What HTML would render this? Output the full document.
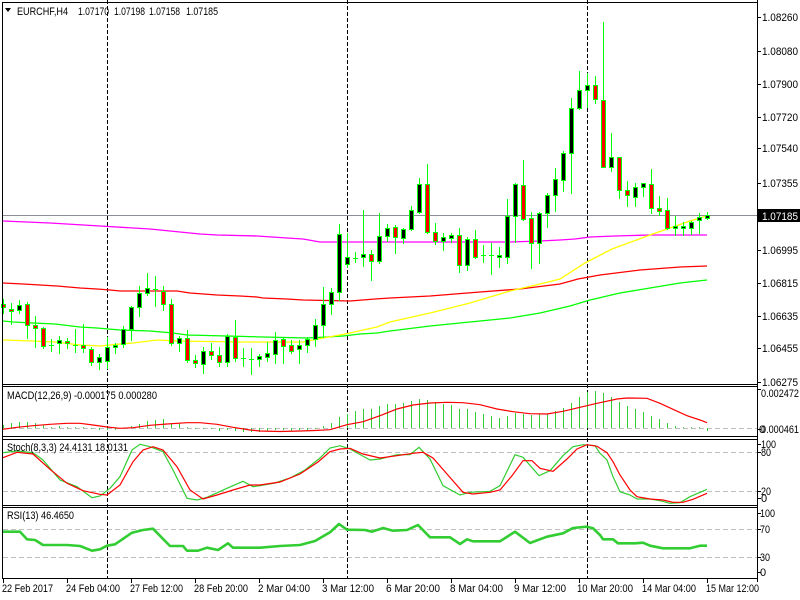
<!DOCTYPE html>
<html><head><meta charset="utf-8"><style>
html,body{margin:0;padding:0;background:#fff;}
svg{display:block;}
text{font-family:"Liberation Sans",sans-serif;font-size:11px;fill:#000;}
</style></head><body>
<svg width="800" height="600" viewBox="0 0 800 600" xmlns="http://www.w3.org/2000/svg">
<rect x="0" y="0" width="800" height="600" fill="#fff"/>

<!-- level dashed lines -->
<g stroke="#c0c0c0" stroke-width="1" stroke-dasharray="5,3" shape-rendering="crispEdges">
<line x1="3" y1="428.5" x2="757" y2="428.5"/>
<line x1="3" y1="452.5" x2="757" y2="452.5"/>
<line x1="3" y1="491.5" x2="757" y2="491.5"/>
<line x1="3" y1="529.5" x2="757" y2="529.5"/>
<line x1="3" y1="557.5" x2="757" y2="557.5"/>
</g>

<!-- separators -->
<g stroke="#000" stroke-width="1" stroke-dasharray="4,2" shape-rendering="crispEdges">
<line x1="107.5" y1="0" x2="107.5" y2="578"/>
<line x1="347.5" y1="0" x2="347.5" y2="578"/>
<line x1="587.5" y1="0" x2="587.5" y2="578"/>
</g>

<!-- price line -->
<line x1="2" y1="215.5" x2="757" y2="215.5" stroke="#8a8e96" stroke-width="1" shape-rendering="crispEdges"/>

<!-- moving averages -->
<g fill="none" stroke-width="1.3">
<polyline stroke="#ff00ff" points="3,221 50,223 100,226 150,229 190,233 200,234 217,235 257,236 287,238 303,239 320,242 390,242 430,242 510,242 540,241 560,240 575,239 590,237 615,236 650,235 707,235"/>
<polyline stroke="#ff0000" points="3,283 23,284 40,285 57,286 80,288 97,289 110,290 120,291 177,291 190,293 217,295 240,296 257,297 263,298 287,299 303,300 350,301 375,299 390,298 430,296 480,292 520,289 560,284 578,279 600,275 640,270 680,267 707,266"/>
<polyline stroke="#00ff00" points="3,321 13,322 33,323 55,324 80,327 97,328 120,330 150,331 173,333 187,335 227,336 263,337 307,338 327,337 343,336 360,334 377,333 390,331 430,326 470,322 510,318 540,313 570,306 590,300 620,293 650,288 680,283 707,280"/>
<polyline stroke="#ffff00" points="3,340 32,341 55,342 80,345 100,346 120,344 133,343 157,340 177,341 240,342 303,342 313,340 323,338 340,335 350,333 363,330 377,327 390,322 430,313 470,303 510,291 540,284 560,279 585,263 612,249 650,235 690,221 707,216"/>
</g>

<!-- candle wicks -->
<path fill="none" stroke="#00ff00" stroke-width="1" shape-rendering="crispEdges" d="M3.5 299V314M11.5 303V325M19.5 300V314M27.5 302V339M35.5 316V348M43.5 327V349M51.5 339V352M59.5 336V354M67.5 338V349M75.5 329V353M83.5 324V353M91.5 347V366M99.5 354V370M107.5 337V369M115.5 343V354M123.5 326V348M131.5 306V341M139.5 286V317M147.5 273V296M155.5 276V307M163.5 286V311M171.5 299V346M179.5 336V352M187.5 330V363M195.5 355V368M203.5 347V374M211.5 343V360M219.5 347V367M227.5 334V367M235.5 320V362M243.5 348V367M251.5 348V375M259.5 354V367M267.5 342V362M275.5 332V364M283.5 338V364M291.5 340V354M299.5 340V364M307.5 337V353M315.5 319V347M323.5 287V338M331.5 288V315M339.5 224V301M347.5 233V268M355.5 252V263M363.5 210V267M371.5 250V281M379.5 213V264M387.5 224V242M395.5 225V254M403.5 228V244M411.5 206V231M419.5 178V214M427.5 164V234M435.5 223V245M443.5 233V251M451.5 233V243M459.5 228V273M467.5 237V271M475.5 230V259M483.5 245V263M491.5 243V275M499.5 247V268M507.5 199V264M515.5 183V243M523.5 160V221M531.5 212V269M539.5 212V264M547.5 193V228M555.5 168V212M563.5 151V192M571.5 98V194M579.5 71V110M587.5 73V108M595.5 76V104M603.5 22V168M611.5 133V172M619.5 157V199M627.5 181V207M635.5 183V207M643.5 183V197M651.5 169V214M659.5 196V216M667.5 198V230M675.5 216V236M683.5 222V236M691.5 221V235M699.5 213V234M707.5 212V220"/>

<!-- candle bodies outer -->
<g fill="#00ff00" shape-rendering="crispEdges">
<rect x="1" y="304" width="5" height="4"/>
<rect x="9" y="309" width="5" height="3"/>
<rect x="17" y="305" width="5" height="6"/>
<rect x="25" y="304" width="5" height="22"/>
<rect x="33" y="325" width="5" height="4"/>
<rect x="41" y="328" width="5" height="19"/>
<rect x="49" y="345" width="5" height="1"/>
<rect x="57" y="340" width="5" height="4"/>
<rect x="65" y="341" width="5" height="3"/>
<rect x="73" y="345" width="5" height="1"/>
<rect x="81" y="345" width="5" height="4"/>
<rect x="89" y="349" width="5" height="14"/>
<rect x="97" y="357" width="5" height="6"/>
<rect x="105" y="347" width="5" height="15"/>
<rect x="113" y="345" width="5" height="3"/>
<rect x="121" y="329" width="5" height="16"/>
<rect x="129" y="307" width="5" height="23"/>
<rect x="137" y="293" width="5" height="15"/>
<rect x="145" y="288" width="5" height="6"/>
<rect x="153" y="289" width="5" height="1"/>
<rect x="161" y="291" width="5" height="14"/>
<rect x="169" y="304" width="5" height="40"/>
<rect x="177" y="338" width="5" height="6"/>
<rect x="185" y="338" width="5" height="23"/>
<rect x="193" y="360" width="5" height="4"/>
<rect x="201" y="351" width="5" height="14"/>
<rect x="209" y="351" width="5" height="5"/>
<rect x="217" y="355" width="5" height="8"/>
<rect x="225" y="336" width="5" height="27"/>
<rect x="233" y="337" width="5" height="22"/>
<rect x="241" y="358" width="5" height="1"/>
<rect x="249" y="359" width="5" height="1"/>
<rect x="257" y="356" width="5" height="4"/>
<rect x="265" y="353" width="5" height="5"/>
<rect x="273" y="340" width="5" height="15"/>
<rect x="281" y="339" width="5" height="8"/>
<rect x="289" y="345" width="5" height="7"/>
<rect x="297" y="345" width="5" height="5"/>
<rect x="305" y="339" width="5" height="7"/>
<rect x="313" y="325" width="5" height="15"/>
<rect x="321" y="304" width="5" height="22"/>
<rect x="329" y="292" width="5" height="13"/>
<rect x="337" y="234" width="5" height="59"/>
<rect x="345" y="257" width="5" height="8"/>
<rect x="353" y="258" width="5" height="1"/>
<rect x="361" y="254" width="5" height="4"/>
<rect x="369" y="254" width="5" height="8"/>
<rect x="377" y="236" width="5" height="26"/>
<rect x="385" y="228" width="5" height="9"/>
<rect x="393" y="227" width="5" height="11"/>
<rect x="401" y="229" width="5" height="10"/>
<rect x="409" y="210" width="5" height="20"/>
<rect x="417" y="184" width="5" height="29"/>
<rect x="425" y="184" width="5" height="49"/>
<rect x="433" y="232" width="5" height="10"/>
<rect x="441" y="237" width="5" height="5"/>
<rect x="449" y="235" width="5" height="4"/>
<rect x="457" y="235" width="5" height="31"/>
<rect x="465" y="239" width="5" height="27"/>
<rect x="473" y="239" width="5" height="19"/>
<rect x="481" y="255" width="5" height="1"/>
<rect x="489" y="255" width="5" height="1"/>
<rect x="497" y="255" width="5" height="3"/>
<rect x="505" y="216" width="5" height="42"/>
<rect x="513" y="184" width="5" height="33"/>
<rect x="521" y="185" width="5" height="35"/>
<rect x="529" y="218" width="5" height="26"/>
<rect x="537" y="213" width="5" height="31"/>
<rect x="545" y="195" width="5" height="19"/>
<rect x="553" y="179" width="5" height="17"/>
<rect x="561" y="153" width="5" height="28"/>
<rect x="569" y="108" width="5" height="46"/>
<rect x="577" y="90" width="5" height="19"/>
<rect x="585" y="85" width="5" height="6"/>
<rect x="593" y="85" width="5" height="15"/>
<rect x="601" y="100" width="5" height="68"/>
<rect x="609" y="157" width="5" height="11"/>
<rect x="617" y="157" width="5" height="34"/>
<rect x="625" y="190" width="5" height="6"/>
<rect x="633" y="187" width="5" height="11"/>
<rect x="641" y="183" width="5" height="5"/>
<rect x="649" y="184" width="5" height="25"/>
<rect x="657" y="208" width="5" height="4"/>
<rect x="665" y="210" width="5" height="19"/>
<rect x="673" y="226" width="5" height="3"/>
<rect x="681" y="226" width="5" height="3"/>
<rect x="689" y="222" width="5" height="7"/>
<rect x="697" y="217" width="5" height="4"/>
<rect x="705" y="215" width="5" height="4"/>
</g>

<!-- red bodies -->
<g fill="#ff0000" shape-rendering="crispEdges">
<rect x="2" y="305" width="3" height="2"/>
<rect x="10" y="310" width="3" height="1"/>
<rect x="26" y="305" width="3" height="20"/>
<rect x="34" y="326" width="3" height="2"/>
<rect x="42" y="329" width="3" height="17"/>
<rect x="66" y="342" width="3" height="1"/>
<rect x="82" y="346" width="3" height="2"/>
<rect x="90" y="350" width="3" height="12"/>
<rect x="162" y="292" width="3" height="12"/>
<rect x="170" y="305" width="3" height="38"/>
<rect x="186" y="339" width="3" height="21"/>
<rect x="194" y="361" width="3" height="2"/>
<rect x="210" y="352" width="3" height="3"/>
<rect x="218" y="356" width="3" height="6"/>
<rect x="234" y="338" width="3" height="20"/>
<rect x="282" y="340" width="3" height="6"/>
<rect x="290" y="346" width="3" height="5"/>
<rect x="370" y="255" width="3" height="6"/>
<rect x="394" y="228" width="3" height="9"/>
<rect x="426" y="185" width="3" height="47"/>
<rect x="434" y="233" width="3" height="8"/>
<rect x="458" y="236" width="3" height="29"/>
<rect x="474" y="240" width="3" height="17"/>
<rect x="522" y="186" width="3" height="33"/>
<rect x="530" y="219" width="3" height="24"/>
<rect x="594" y="86" width="3" height="13"/>
<rect x="602" y="101" width="3" height="66"/>
<rect x="618" y="158" width="3" height="32"/>
<rect x="626" y="191" width="3" height="4"/>
<rect x="650" y="185" width="3" height="23"/>
<rect x="658" y="209" width="3" height="2"/>
<rect x="666" y="211" width="3" height="17"/>
</g>

<!-- black bodies -->
<g fill="#000" shape-rendering="crispEdges">
<rect x="18" y="306" width="3" height="4"/>
<rect x="58" y="341" width="3" height="2"/>
<rect x="98" y="358" width="3" height="4"/>
<rect x="106" y="348" width="3" height="13"/>
<rect x="114" y="346" width="3" height="1"/>
<rect x="122" y="330" width="3" height="14"/>
<rect x="130" y="308" width="3" height="21"/>
<rect x="138" y="294" width="3" height="13"/>
<rect x="146" y="289" width="3" height="4"/>
<rect x="178" y="339" width="3" height="4"/>
<rect x="202" y="352" width="3" height="12"/>
<rect x="226" y="337" width="3" height="25"/>
<rect x="258" y="357" width="3" height="2"/>
<rect x="266" y="354" width="3" height="3"/>
<rect x="274" y="341" width="3" height="13"/>
<rect x="298" y="346" width="3" height="3"/>
<rect x="306" y="340" width="3" height="5"/>
<rect x="314" y="326" width="3" height="13"/>
<rect x="322" y="305" width="3" height="20"/>
<rect x="330" y="293" width="3" height="11"/>
<rect x="338" y="235" width="3" height="57"/>
<rect x="346" y="258" width="3" height="6"/>
<rect x="362" y="255" width="3" height="2"/>
<rect x="378" y="237" width="3" height="24"/>
<rect x="386" y="229" width="3" height="7"/>
<rect x="402" y="230" width="3" height="8"/>
<rect x="410" y="211" width="3" height="18"/>
<rect x="418" y="185" width="3" height="27"/>
<rect x="442" y="238" width="3" height="3"/>
<rect x="450" y="236" width="3" height="2"/>
<rect x="466" y="240" width="3" height="25"/>
<rect x="498" y="256" width="3" height="1"/>
<rect x="506" y="217" width="3" height="40"/>
<rect x="514" y="185" width="3" height="31"/>
<rect x="538" y="214" width="3" height="29"/>
<rect x="546" y="196" width="3" height="17"/>
<rect x="554" y="180" width="3" height="15"/>
<rect x="562" y="154" width="3" height="26"/>
<rect x="570" y="109" width="3" height="44"/>
<rect x="578" y="91" width="3" height="17"/>
<rect x="586" y="86" width="3" height="4"/>
<rect x="610" y="158" width="3" height="9"/>
<rect x="634" y="188" width="3" height="9"/>
<rect x="642" y="184" width="3" height="3"/>
<rect x="674" y="227" width="3" height="1"/>
<rect x="682" y="227" width="3" height="1"/>
<rect x="690" y="223" width="3" height="5"/>
<rect x="698" y="218" width="3" height="2"/>
<rect x="706" y="216" width="3" height="2"/>
</g>

<!-- MACD histogram -->
<path fill="none" stroke="#32cd32" stroke-width="1" shape-rendering="crispEdges" d="M3.5 428V425M11.5 428V423M19.5 428V422M27.5 428V422M35.5 428V423M43.5 428V425M51.5 428V427M59.5 428V426M67.5 428V427M75.5 428V427M83.5 428V427M91.5 428V429M99.5 428V430M107.5 428V430M115.5 428V430M123.5 428V429M131.5 428V426M139.5 428V424M147.5 428V421M155.5 428V420M163.5 428V419M171.5 428V423M179.5 428V423M187.5 428V427M195.5 428V429M203.5 428V429M211.5 428V429M219.5 428V431M227.5 428V430M235.5 428V431M243.5 428V432M251.5 428V432M259.5 428V432M267.5 428V431M275.5 428V430M283.5 428V430M291.5 428V431M299.5 428V430M307.5 428V430M315.5 428V429M323.5 428V426M331.5 428V423M339.5 428V417M347.5 428V414M355.5 428V411M363.5 428V409M371.5 428V409M379.5 428V406M387.5 428V404M395.5 428V404M403.5 428V403M411.5 428V401M419.5 428V399M427.5 428V400M435.5 428V402M443.5 428V404M451.5 428V405M459.5 428V409M467.5 428V409M475.5 428V412M483.5 428V414M491.5 428V416M499.5 428V418M507.5 428V416M515.5 428V413M523.5 428V414M531.5 428V415M539.5 428V414M547.5 428V414M555.5 428V411M563.5 428V408M571.5 428V403M579.5 428V397M587.5 428V392M595.5 428V391M603.5 428V393M611.5 428V397M619.5 428V402M627.5 428V406M635.5 428V409M643.5 428V412M651.5 428V416M659.5 428V419M667.5 428V423M675.5 428V426M683.5 428V427M691.5 428V427M699.5 428V427M707.5 428V431"/>

<!-- MACD signal -->
<polyline fill="none" stroke="#ff0000" stroke-width="1.2" points="3,429.3 17,427.3 33,425.7 50,424.3 67,423.3 80,423.3 93,425 107,427 120,428.3 133,427.7 150,425.3 167,424 187,422.7 200,422.7 217,424.3 233,427.3 250,430 260,431 280,431.5 300,431 315,430.5 330,429.7 347,424.7 363,421.7 380,415.7 397,409 413,405 430,403 447,402.3 463,402.7 480,404.7 497,409 513,411.7 530,413.7 547,414 563,411.3 580,407.3 597,403.3 600,402.7 617,399 627,398 647,398.3 660,403.3 673,409.3 687,415.7 700,420 707,422.7"/>

<!-- Stoch -->
<polyline fill="none" stroke="#32cd32" stroke-width="1.2" points="3,452.7 17,451 33,452.7 43,460 60,480 77,486.7 92,497.7 100,496 110,488.3 120,476.7 132,450 140,444.3 150,446.7 163,451.7 173,470 187,498.3 197,500 207,497.3 227,488.3 243,481.3 253,486.7 260,485.7 275,483 290,478 305,470 320,458 330,448 340,445.7 350,449 370,460 380,459 397,454.7 410,454.7 419,447.3 430,459 443,485.7 460,495 470,492.3 490,491.3 500,485.7 515,454.7 523,457.3 539,475.7 550,470.7 563,455.7 573,446.7 583,444.7 595,445.7 600,453.3 607,460 613,476.7 620,491.7 630,495 637,499 650,499 660,500.7 670,503.3 680,502.7 690,496.7 707,489.3"/>
<polyline fill="none" stroke="#ff0000" stroke-width="1.2" points="3,457.7 17,452.3 33,454 50,469.3 67,483.3 83,490.7 100,494.3 107,495 120,485 133,461.7 143,450 153,446.7 163,450 177,466.7 190,490 203,499 217,495 233,490 250,485 260,485 280,482 300,474 318,462 330,451.7 340,449 350,448.3 363,454 380,458 397,455.7 413,453.3 423,452.3 433,458 447,474 463,492.3 473,494 490,492.3 500,490 512,475.7 523,460.7 532,460.7 540,468.3 553,471.3 567,459 577,449 587,444.7 597,446.3 600,448.3 607,452.7 613,461.7 620,475 630,490 637,496.7 650,499 663,500 673,502.3 683,502.3 693,499.3 707,493.3"/>

<!-- RSI -->
<polyline fill="none" stroke="#32cd32" stroke-width="2.6" stroke-linejoin="round" points="3,531.7 20,531.7 27,539.3 35,540 43,545 67,545 80,546 92,550.7 100,549.3 107,545.7 115,544.3 132,532.7 143,530 153,528.7 170,546 183,546 187,550.7 198,550.7 207,547.7 218,550 228,543.3 233,547.7 260,547.7 280,546 300,545 315,541 330,532.3 339,524 347,529.7 365,530 372,531.7 383,528 393,530.7 407,530 418,525 430,537.3 450,537.3 460,544 467,539.3 473,541.3 500,541.3 515,531.7 530,543 547,536.7 563,533.3 573,528 587,526.7 593,528.3 600,535 603,539.3 613,539.3 618,543.3 635,543.3 643,542.7 650,545.7 663,548.3 690,548.3 700,545.7 707,545.7"/>

<!-- panel borders -->
<g stroke="#000" stroke-width="1" shape-rendering="crispEdges" fill="none">
<line x1="2" y1="2.5" x2="757" y2="2.5"/>
<line x1="2" y1="384.5" x2="757" y2="384.5"/>
<line x1="2" y1="386.5" x2="757" y2="386.5"/>
<line x1="2" y1="436.5" x2="757" y2="436.5"/>
<line x1="2" y1="439.5" x2="757" y2="439.5"/>
<line x1="2" y1="505.5" x2="757" y2="505.5"/>
<line x1="2" y1="507.5" x2="757" y2="507.5"/>
<line x1="2" y1="578.5" x2="757" y2="578.5"/>
<line x1="2.5" y1="2" x2="2.5" y2="579"/>
<line x1="757.5" y1="0" x2="757.5" y2="582"/>
</g>

<!-- right axis ticks -->
<g stroke="#000" stroke-width="1" shape-rendering="crispEdges">
<line x1="757" y1="17.5" x2="761" y2="17.5"/>
<line x1="757" y1="51.5" x2="761" y2="51.5"/>
<line x1="757" y1="84.5" x2="761" y2="84.5"/>
<line x1="757" y1="117.5" x2="761" y2="117.5"/>
<line x1="757" y1="148.5" x2="761" y2="148.5"/>
<line x1="757" y1="183.5" x2="761" y2="183.5"/>
<line x1="757" y1="250.5" x2="761" y2="250.5"/>
<line x1="757" y1="283.5" x2="761" y2="283.5"/>
<line x1="757" y1="316.5" x2="761" y2="316.5"/>
<line x1="757" y1="348.5" x2="761" y2="348.5"/>
<line x1="757" y1="382.5" x2="761" y2="382.5"/>
<line x1="757" y1="389.5" x2="761" y2="389.5"/>
<line x1="757" y1="429.5" x2="761" y2="429.5"/>
<line x1="757" y1="444.5" x2="761" y2="444.5"/>
<line x1="757" y1="452.5" x2="761" y2="452.5"/>
<line x1="757" y1="491.5" x2="761" y2="491.5"/>
<line x1="757" y1="498.5" x2="761" y2="498.5"/>
<line x1="757" y1="513.5" x2="761" y2="513.5"/>
<line x1="757" y1="529.5" x2="761" y2="529.5"/>
<line x1="757" y1="557.5" x2="761" y2="557.5"/>
<line x1="757" y1="572.5" x2="761" y2="572.5"/>
</g>

<!-- time ticks -->
<g stroke="#000" stroke-width="1" shape-rendering="crispEdges">
<line x1="3.5" y1="578" x2="3.5" y2="583"/>
<line x1="67.5" y1="578" x2="67.5" y2="583"/>
<line x1="131.5" y1="578" x2="131.5" y2="583"/>
<line x1="195.5" y1="578" x2="195.5" y2="583"/>
<line x1="259.5" y1="578" x2="259.5" y2="583"/>
<line x1="323.5" y1="578" x2="323.5" y2="583"/>
<line x1="387.5" y1="578" x2="387.5" y2="583"/>
<line x1="451.5" y1="578" x2="451.5" y2="583"/>
<line x1="515.5" y1="578" x2="515.5" y2="583"/>
<line x1="579.5" y1="578" x2="579.5" y2="583"/>
<line x1="643.5" y1="578" x2="643.5" y2="583"/>
<line x1="707.5" y1="578" x2="707.5" y2="583"/>
</g>

<!-- header -->
<polygon points="5,8 11,8 8,12" fill="#000"/>
<text x="17" y="15" textLength="51" lengthAdjust="spacingAndGlyphs">EURCHF,H4</text>
<text x="78" y="15" textLength="31" lengthAdjust="spacingAndGlyphs">1.07170</text>
<text x="114" y="15" textLength="31" lengthAdjust="spacingAndGlyphs">1.07198</text>
<text x="149" y="15" textLength="31" lengthAdjust="spacingAndGlyphs">1.07158</text>
<text x="186" y="15" textLength="32" lengthAdjust="spacingAndGlyphs">1.07185</text>

<!-- indicator titles -->
<text x="7" y="399" textLength="150" lengthAdjust="spacingAndGlyphs">MACD(12,26,9) -0.000175 0.000280</text>
<text x="7" y="451" textLength="121" lengthAdjust="spacingAndGlyphs">Stoch(8,3,3) 24.4131 18.0131</text>
<text x="7" y="519" textLength="67" lengthAdjust="spacingAndGlyphs">RSI(13) 46.4650</text>

<!-- price axis labels -->
<g>
<text x="762" y="21" textLength="36" lengthAdjust="spacingAndGlyphs">1.08260</text>
<text x="762" y="55" textLength="36" lengthAdjust="spacingAndGlyphs">1.08080</text>
<text x="762" y="88" textLength="36" lengthAdjust="spacingAndGlyphs">1.07900</text>
<text x="762" y="121" textLength="36" lengthAdjust="spacingAndGlyphs">1.07720</text>
<text x="762" y="152" textLength="36" lengthAdjust="spacingAndGlyphs">1.07540</text>
<text x="762" y="187" textLength="36" lengthAdjust="spacingAndGlyphs">1.07355</text>
<text x="762" y="254" textLength="36" lengthAdjust="spacingAndGlyphs">1.06995</text>
<text x="762" y="287" textLength="36" lengthAdjust="spacingAndGlyphs">1.06815</text>
<text x="762" y="320" textLength="36" lengthAdjust="spacingAndGlyphs">1.06635</text>
<text x="762" y="352" textLength="36" lengthAdjust="spacingAndGlyphs">1.06455</text>
<text x="762" y="386" textLength="36" lengthAdjust="spacingAndGlyphs">1.06275</text>
</g>
<rect x="758" y="209" width="42" height="13" fill="#000"/>
<text x="762" y="220" textLength="36" lengthAdjust="spacingAndGlyphs" style="fill:#fff">1.07185</text>

<!-- indicator axis labels -->
<text x="761" y="397" textLength="38" lengthAdjust="spacingAndGlyphs">0.002472</text>
<text x="761" y="433" textLength="38" lengthAdjust="spacingAndGlyphs">0.000461</text>
<text x="759" y="433">0</text>
<text x="761" y="448" textLength="15" lengthAdjust="spacingAndGlyphs">100</text>
<text x="761" y="456" textLength="10" lengthAdjust="spacingAndGlyphs">80</text>
<text x="761" y="495" textLength="10" lengthAdjust="spacingAndGlyphs">20</text>
<text x="761" y="502">0</text>
<text x="760" y="517" textLength="15" lengthAdjust="spacingAndGlyphs">100</text>
<text x="760" y="533" textLength="10" lengthAdjust="spacingAndGlyphs">70</text>
<text x="760" y="561" textLength="10" lengthAdjust="spacingAndGlyphs">30</text>
<text x="760" y="576">0</text>

<!-- time labels -->
<g>
<text x="2" y="592" textLength="51" lengthAdjust="spacingAndGlyphs">22 Feb 2017</text>
<text x="66" y="592" textLength="54" lengthAdjust="spacingAndGlyphs">24 Feb 04:00</text>
<text x="130" y="592" textLength="53" lengthAdjust="spacingAndGlyphs">27 Feb 12:00</text>
<text x="194" y="592" textLength="54" lengthAdjust="spacingAndGlyphs">28 Feb 20:00</text>
<text x="258" y="592" textLength="52" lengthAdjust="spacingAndGlyphs">2 Mar 04:00</text>
<text x="322" y="592" textLength="52" lengthAdjust="spacingAndGlyphs">3 Mar 12:00</text>
<text x="386" y="592" textLength="54" lengthAdjust="spacingAndGlyphs">6 Mar 20:00</text>
<text x="450" y="592" textLength="53" lengthAdjust="spacingAndGlyphs">8 Mar 04:00</text>
<text x="514" y="592" textLength="52" lengthAdjust="spacingAndGlyphs">9 Mar 12:00</text>
<text x="577" y="592" textLength="56" lengthAdjust="spacingAndGlyphs">10 Mar 20:00</text>
<text x="642" y="592" textLength="54" lengthAdjust="spacingAndGlyphs">14 Mar 04:00</text>
<text x="706" y="592" textLength="53" lengthAdjust="spacingAndGlyphs">15 Mar 12:00</text>
</g>
</svg>
</body></html>
